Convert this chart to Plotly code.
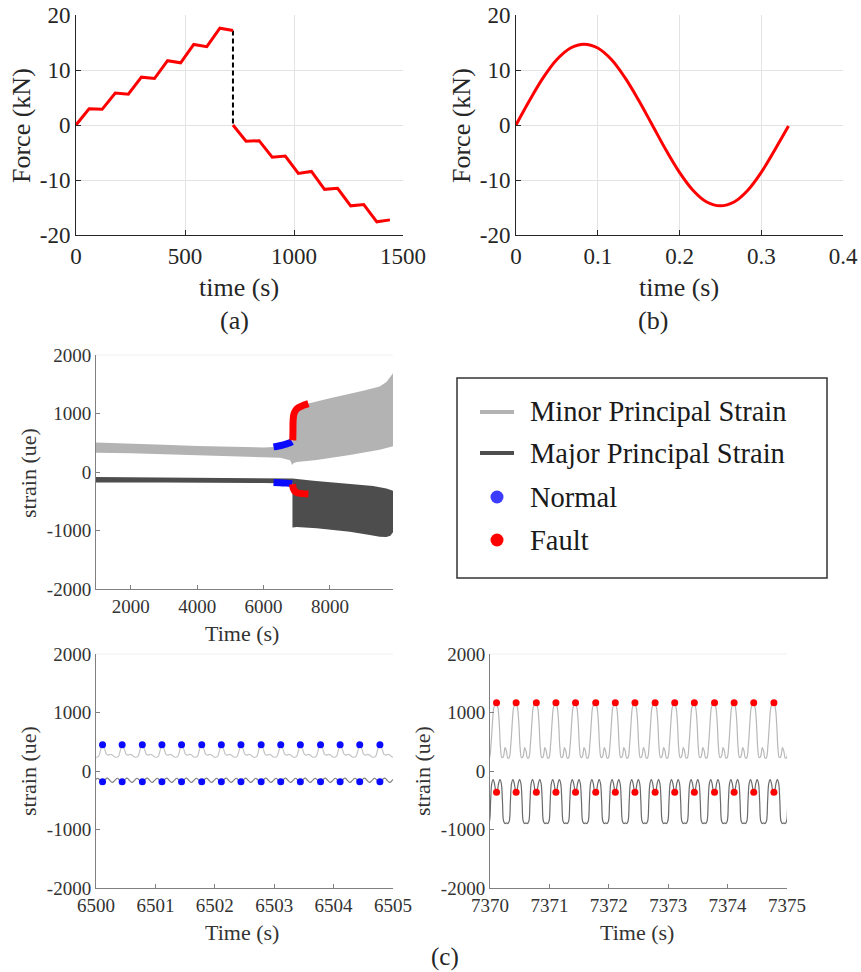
import plotly.graph_objects as go

W, H = 861, 972
SERIF = "Liberation Serif"

# ---------------- (a) stepwise force history ----------------
load_t = [0, 60, 120, 180, 240, 300, 360, 420, 480, 540, 600, 660, 720]
load_f = [0, 2.95, 2.85, 5.8, 5.6, 8.7, 8.45, 11.7, 11.3, 14.65, 14.25, 17.6, 17.2]
unload_t = [720, 780, 840, 900, 960, 1020, 1080, 1140, 1200, 1260, 1320, 1380, 1440]
unload_f = [0, -2.95, -2.85, -5.85, -5.65, -8.8, -8.45, -11.7, -11.5, -14.7, -14.45, -17.6, -17.25]

# ---------------- (b) one load cycle ----------------
cycle_t = [0, 0.0167, 0.0333, 0.05, 0.0667, 0.0833, 0.1, 0.1167, 0.1333, 0.15, 0.1667,
           0.1833, 0.2, 0.2167, 0.2333, 0.25, 0.2667, 0.2833, 0.3, 0.3167, 0.3333]
cycle_f = [0, 4.5, 8.6, 11.9, 14.0, 14.7, 14.0, 11.9, 8.6, 4.5, 0,
           -4.5, -8.6, -11.9, -14.0, -14.7, -14.0, -11.9, -8.6, -4.5, -0.2]

# ---------------- (c) strain envelopes over the whole test ----------------
minor_upper_t = [950, 2000, 3000, 4000, 5000, 6000, 6500, 6850, 6880, 6900, 6950, 7000, 7100,
                 7350, 8000, 8500, 9000, 9500, 9700, 9850, 9900]
minor_upper_v = [505, 490, 465, 445, 430, 420, 430, 500, 540, 700, 900, 1000, 1080,
                 1170, 1260, 1320, 1390, 1460, 1540, 1650, 1690]
minor_lower_t = [950, 2000, 3000, 4000, 5000, 5600, 6500, 6800, 6860, 6900, 7000, 7600, 8600, 9500, 9900]
minor_lower_v = [330, 320, 300, 285, 270, 262, 245, 200, 120, 150, 170, 205, 290, 380, 440]

major_upper_t = [950, 3000, 5000, 6000, 6870, 7500, 8500, 9300, 9700, 9900]
major_upper_v = [-85, -95, -105, -115, -110, -150, -200, -240, -280, -320]
major_lower_t = [950, 3000, 5000, 6000, 6870, 6870, 7000, 7600, 8600, 9200, 9500, 9700, 9820, 9900]
major_lower_v = [-180, -180, -185, -190, -195, -950, -940, -963, -1020, -1075, -1105, -1110, -1090, -1030]

normal_minor_t = [6300, 6450, 6600, 6750, 6860]
normal_minor_v = [430, 445, 465, 490, 520]
fault_minor_t = [6880, 6885, 6890, 6910, 6960, 7050, 7200, 7350]
fault_minor_v = [540, 700, 880, 980, 1050, 1100, 1140, 1170]
normal_major_t = [6300, 6500, 6700, 6860]
normal_major_v = [-180, -185, -190, -200]
fault_major_t = [6870, 6900, 6950, 7050, 7350]
fault_major_v = [-210, -290, -335, -360, -375]

# ---------------- (c) zoomed 5 s windows ----------------
period = 1 / 3
normal_peak_t = [6500.11, 6500.44, 6500.78, 6501.11, 6501.44, 6501.78, 6502.11, 6502.44,
                 6502.78, 6503.11, 6503.44, 6503.78, 6504.11, 6504.44, 6504.78]
normal_minor_peak = [450] * 15
normal_major_peak = [-182] * 15
fault_peak_t = [7370.11, 7370.44, 7370.78, 7371.11, 7371.44, 7371.78, 7372.11, 7372.44,
                7372.78, 7373.11, 7373.44, 7373.78, 7374.11, 7374.44, 7374.78]
fault_minor_peak = [1168] * 15
fault_major_peak = [-365] * 15

# one cycle of each gauge trace, phase measured from the marked sample
nm_phase = [0, 0.1, 0.2, 0.3, 0.4, 0.5, 0.6, 0.7, 0.8, 0.88, 0.95, 1.0]
nm_minor = [420, 380, 290, 270, 285, 275, 245, 235, 250, 330, 410, 420]
nj_phase = [0, 0.12, 0.25, 0.38, 0.5, 0.62, 0.75, 0.88, 1.0]
nj_major = [-192, -150, -122, -165, -196, -160, -124, -160, -192]
fm_phase = [0, 0.07, 0.14, 0.2, 0.27, 0.35, 0.43, 0.5, 0.57, 0.64, 0.72, 0.8, 0.86, 0.93, 1.0]
fm_minor = [1150, 1080, 800, 400, 230, 250, 400, 340, 220, 230, 450, 850, 1080, 1140, 1150]
fj_phase = [0, 0.05, 0.1, 0.17, 0.24, 0.3, 0.36, 0.44, 0.5, 0.56, 0.64, 0.7, 0.76, 0.83, 0.9, 0.95, 1.0]
fj_major = [-350, -320, -220, -145, -210, -520, -860, -900, -885, -900, -860, -520, -210, -145, -220, -320, -350]


def trace_from_cycle(peaks, phase, vals):
    starts = [peaks[0] - period] + list(peaks) + [peaks[-1] + period]
    t, v = [], []
    for s in starts:
        for p, y in zip(phase[:-1], vals[:-1]):
            t.append(s + p * period)
            v.append(y)
    return t, v


def band(up_t, up_v, lo_t, lo_v):
    return list(up_t) + list(reversed(lo_t)), list(up_v) + list(reversed(lo_v))


RED = "#ff0000"
BLUE = "#0a0aff"
LIGHT = "#b3b3b3"
DARK = "#4d4d4d"

fig = go.Figure()

# (a)
fig.add_trace(go.Scatter(x=[720, 720], y=[load_f[-1], unload_f[0]], mode="lines",
                         line=dict(color="black", width=2, dash="5px,3px"), xaxis="x", yaxis="y"))
fig.add_trace(go.Scatter(x=load_t, y=load_f, mode="lines", line=dict(color=RED, width=3),
                         xaxis="x", yaxis="y"))
fig.add_trace(go.Scatter(x=unload_t, y=unload_f, mode="lines", line=dict(color=RED, width=3),
                         xaxis="x", yaxis="y"))

# (b)
fig.add_trace(go.Scatter(x=cycle_t, y=cycle_f, mode="lines", line=dict(color=RED, width=3, shape="spline"),
                         xaxis="x2", yaxis="y2"))

# (c) overview
bx, by = band(minor_upper_t, minor_upper_v, minor_lower_t, minor_lower_v)
fig.add_trace(go.Scatter(x=bx, y=by, fill="toself", fillcolor=LIGHT, mode="lines",
                         line=dict(width=0, color=LIGHT), xaxis="x3", yaxis="y3"))
bx, by = band(major_upper_t, major_upper_v, major_lower_t, major_lower_v)
fig.add_trace(go.Scatter(x=bx, y=by, fill="toself", fillcolor=DARK, mode="lines",
                         line=dict(width=0, color=DARK), xaxis="x3", yaxis="y3"))
for tt, vv, c in [(normal_minor_t, normal_minor_v, BLUE), (normal_major_t, normal_major_v, BLUE),
                  (fault_minor_t, fault_minor_v, RED), (fault_major_t, fault_major_v, RED)]:
    fig.add_trace(go.Scatter(x=tt, y=vv, mode="lines", line=dict(color=c, width=7, shape="spline"),
                             xaxis="x3", yaxis="y3"))

# (c) normal window
t, v = trace_from_cycle(normal_peak_t, nm_phase, nm_minor)
fig.add_trace(go.Scatter(x=t, y=v, mode="lines", line=dict(color="#c4c4c4", width=1.2, shape="spline"),
                         xaxis="x4", yaxis="y4"))
t, v = trace_from_cycle(normal_peak_t, nj_phase, nj_major)
fig.add_trace(go.Scatter(x=t, y=v, mode="lines", line=dict(color="#808080", width=1.2, shape="spline"),
                         xaxis="x4", yaxis="y4"))
fig.add_trace(go.Scatter(x=normal_peak_t, y=normal_minor_peak, mode="markers",
                         marker=dict(color=BLUE, size=7), xaxis="x4", yaxis="y4"))
fig.add_trace(go.Scatter(x=normal_peak_t, y=normal_major_peak, mode="markers",
                         marker=dict(color=BLUE, size=7), xaxis="x4", yaxis="y4"))

# (c) fault window
t, v = trace_from_cycle(fault_peak_t, fm_phase, fm_minor)
fig.add_trace(go.Scatter(x=t, y=v, mode="lines", line=dict(color="#b8b8b8", width=1.2, shape="spline"),
                         xaxis="x5", yaxis="y5"))
t, v = trace_from_cycle(fault_peak_t, fj_phase, fj_major)
fig.add_trace(go.Scatter(x=t, y=v, mode="lines", line=dict(color="#6a6a6a", width=1.2, shape="spline"),
                         xaxis="x5", yaxis="y5"))
fig.add_trace(go.Scatter(x=fault_peak_t, y=fault_minor_peak, mode="markers",
                         marker=dict(color=RED, size=7), xaxis="x5", yaxis="y5"))
fig.add_trace(go.Scatter(x=fault_peak_t, y=fault_major_peak, mode="markers",
                         marker=dict(color=RED, size=7), xaxis="x5", yaxis="y5"))


def px_x(p):
    return p / W


def px_y(p):
    return 1 - p / H


top_common = dict(showline=True, linecolor="#262626", linewidth=1, ticks="inside", ticklen=5,
                  tickcolor="#262626", showgrid=True, gridcolor="#e3e3e3", gridwidth=1,
                  zeroline=False, automargin=False,
                  tickfont=dict(family=SERIF, size=23, color="#262626"))
low_common = dict(showline=True, linecolor="#808080", linewidth=1, ticks="inside", ticklen=4,
                  tickcolor="#808080", showgrid=False, zeroline=False, automargin=False,
                  tickfont=dict(family=SERIF, size=19, color="#333333"))

force_ticks = [-20, -10, 0, 10, 20]
force_text = ["-20", "-10", "0", "10", "20"]
strain_ticks = [-2000, -1000, 0, 1000, 2000]
strain_text = ["-2000", "-1000", "0", "1000", "2000"]

dom_a = [px_x(76), px_x(403)]
dom_b = [px_x(516), px_x(843)]
dom_top_y = [px_y(235), px_y(15)]
dom_l = [px_x(96), px_x(393)]
dom_r = [px_x(490), px_x(787)]
dom_mid_y = [px_y(589), px_y(355)]
dom_bot_y = [px_y(888), px_y(654)]

fig.update_layout(
    width=W, height=H, margin=dict(l=0, r=0, t=0, b=0, autoexpand=False),
    paper_bgcolor="white", plot_bgcolor="white", showlegend=False,
    font=dict(family=SERIF, color="#262626"),
    xaxis=dict(domain=dom_a, anchor="y", range=[0, 1500], tickvals=[0, 500, 1000, 1500],
               ticktext=["0", "500", "1000", "1500"], **top_common),
    yaxis=dict(domain=dom_top_y, anchor="x", range=[-20, 20], tickvals=force_ticks,
               ticktext=force_text, **top_common),
    xaxis2=dict(domain=dom_b, anchor="y2", range=[0, 0.4], tickvals=[0, 0.1, 0.2, 0.3, 0.4],
                ticktext=["0", "0.1", "0.2", "0.3", "0.4"], **top_common),
    yaxis2=dict(domain=dom_top_y, anchor="x2", range=[-20, 20], tickvals=force_ticks,
                ticktext=force_text, **top_common),
    xaxis3=dict(domain=dom_l, anchor="y3", range=[950, 9900], tickvals=[2000, 4000, 6000, 8000],
                ticktext=["2000", "4000", "6000", "8000"], **low_common),
    yaxis3=dict(domain=dom_mid_y, anchor="x3", range=[-2000, 2000], tickvals=strain_ticks,
                ticktext=strain_text, **low_common),
    xaxis4=dict(domain=dom_l, anchor="y4", range=[6500, 6505],
                tickvals=[6500, 6501, 6502, 6503, 6504, 6505],
                ticktext=["6500", "6501", "6502", "6503", "6504", "6505"], **low_common),
    yaxis4=dict(domain=dom_bot_y, anchor="x4", range=[-2000, 2000], tickvals=strain_ticks,
                ticktext=strain_text, **low_common),
    xaxis5=dict(domain=dom_r, anchor="y5", range=[7370, 7375],
                tickvals=[7370, 7371, 7372, 7373, 7374, 7375],
                ticktext=["7370", "7371", "7372", "7373", "7374", "7375"], **low_common),
    yaxis5=dict(domain=dom_bot_y, anchor="x5", range=[-2000, 2000], tickvals=strain_ticks,
                ticktext=strain_text, **low_common),
)

annotations = []


def label(text, x, y, size, angle=0, color="#262626"):
    annotations.append(dict(text=text, x=px_x(x), y=px_y(y), xref="paper", yref="paper",
                            xanchor="center", yanchor="middle", showarrow=False, textangle=angle,
                            font=dict(family=SERIF, size=size, color=color)))


label("Force (kN)", 21, 126, 26, -90)
label("time (s)", 239, 287, 26)
label("(a)", 235, 320, 26)
label("Force (kN)", 461, 126, 26, -90)
label("time (s)", 679, 287, 26)
label("(b)", 653, 320, 26)
label("strain (ue)", 28, 473, 22, -90, "#333333")
label("Time (s)", 242, 633, 22, 0, "#333333")
label("strain (ue)", 28, 771, 22, -90, "#333333")
label("Time (s)", 242, 932, 22, 0, "#333333")
label("strain (ue)", 422, 771, 22, -90, "#333333")
label("Time (s)", 637, 932, 22, 0, "#333333")
label("(c)", 445, 957, 25)

shapes = []
# faint upper frame edge on the strain plots
for dx, dy in [(dom_l, dom_mid_y), (dom_l, dom_bot_y), (dom_r, dom_bot_y)]:
    shapes.append(dict(type="line", xref="paper", yref="paper", x0=dx[0], x1=dx[1], y0=dy[1], y1=dy[1],
                       line=dict(color="#f0f0f0", width=1)))

# legend for panel (c)
shapes.append(dict(type="rect", xref="paper", yref="paper", x0=px_x(457), x1=px_x(827),
                   y0=px_y(578), y1=px_y(378), line=dict(color="#333333", width=1.5),
                   fillcolor="rgba(0,0,0,0)"))
legend_rows = [("Minor Principal Strain", "line", LIGHT, 412),
               ("Major Principal Strain", "line", DARK, 453),
               ("Normal", "dot", "#3c3cff", 497),
               ("Fault", "dot", RED, 540)]
for name, kind, color, yy in legend_rows:
    if kind == "line":
        shapes.append(dict(type="line", xref="paper", yref="paper", x0=px_x(480), x1=px_x(514),
                           y0=px_y(yy), y1=px_y(yy), line=dict(color=color, width=4)))
    else:
        r = 6.5
        shapes.append(dict(type="circle", xref="paper", yref="paper", x0=px_x(497 - r), x1=px_x(497 + r),
                           y0=px_y(yy + r), y1=px_y(yy - r), fillcolor=color, line=dict(width=0)))
    annotations.append(dict(text=name, x=px_x(528), y=px_y(yy), xref="paper", yref="paper",
                            xanchor="left", yanchor="middle", showarrow=False,
                            font=dict(family=SERIF, size=28.5, color="#1a1a1a")))

fig.update_layout(annotations=annotations, shapes=shapes)

fig.write_html("out.html")
